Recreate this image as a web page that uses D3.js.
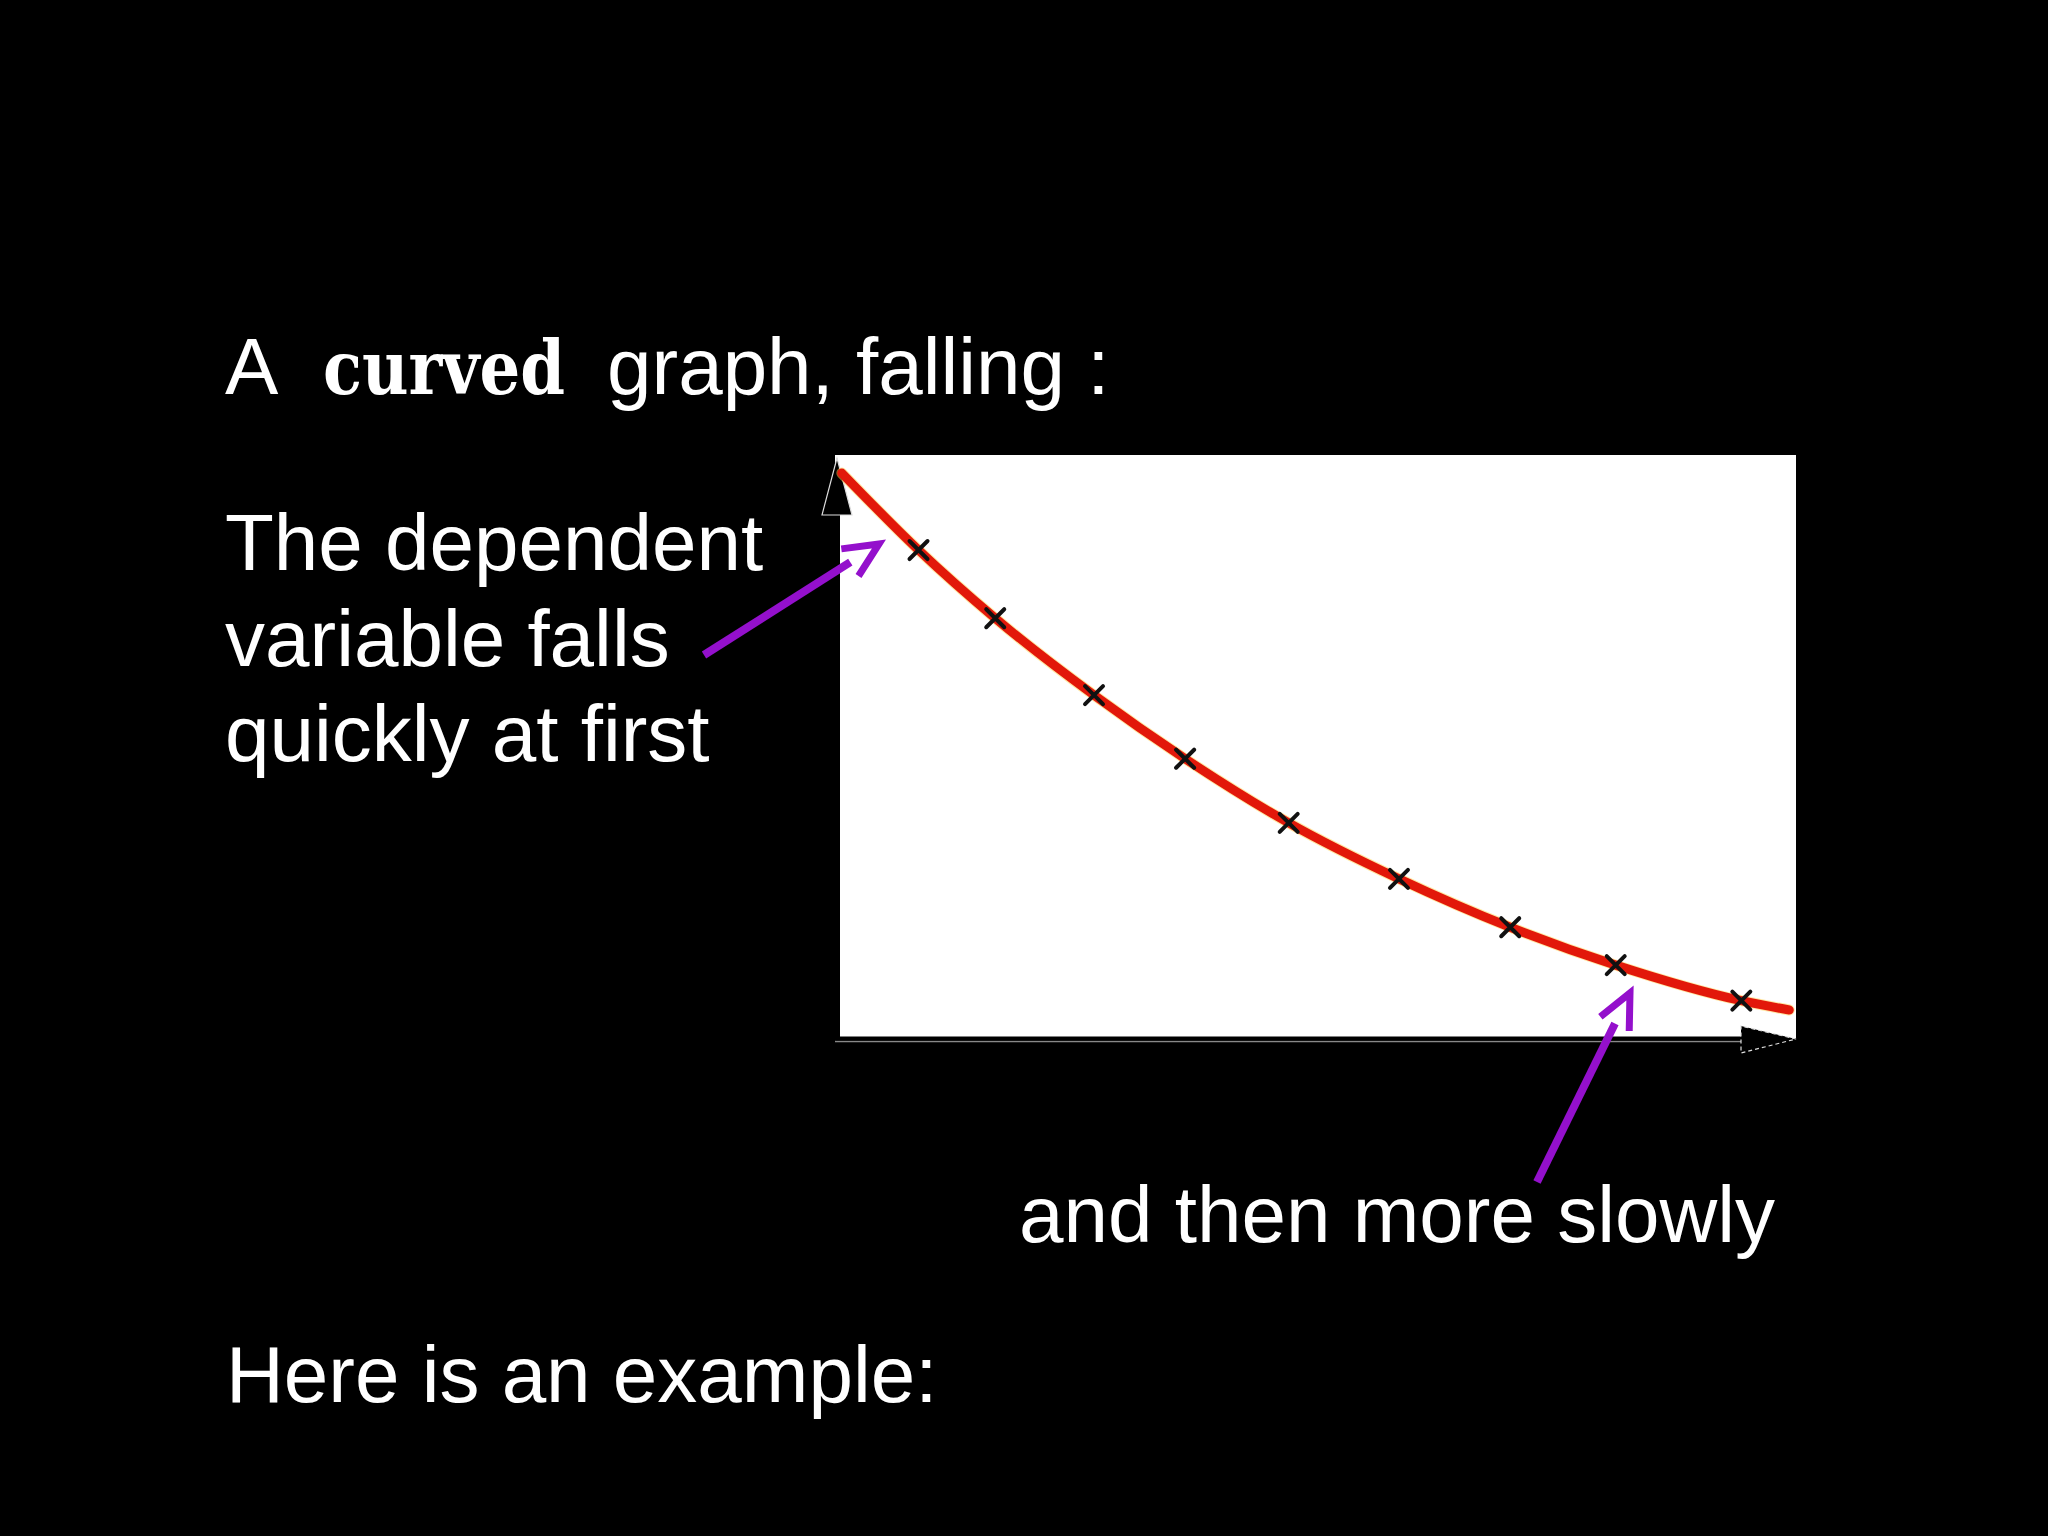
<!DOCTYPE html>
<html>
<head>
<meta charset="utf-8">
<script src="https://cdn.jsdelivr.net/npm/d3@7"></script>
<style>
  html, body { margin: 0; padding: 0; background: #000; }
  svg { display: block; }
</style>
</head>
<body>
<script>
// ---- data ----
const xDomain = [0, 10];
const yDomain = [0, 100];
const markerX = [0.85, 1.65, 2.68, 3.63, 4.71, 5.86, 7.02, 8.12, 9.43];
const markerY = [83.7, 72.0, 58.8, 47.9, 36.9, 27.3, 19.0, 12.5, 6.4];
const curveStart = [0.05, 96.9];
const curveEnd = [9.93, 4.8];

const titleParts = ["A", "curved", "graph, falling :"];
const leftLines = ["The dependent", "variable falls", "quickly at first"];
const rightNote = "and then more slowly";
const footer = "Here is an example:";

// ---- setup ----
const W = 2048, H = 1536;
const svg = d3.select("body").append("svg").attr("width", W).attr("height", H);
svg.append("rect").attr("width", W).attr("height", H).attr("fill", "#000");

const x = d3.scaleLinear().domain(xDomain).range([837, 1796]);
const y = d3.scaleLinear().domain(yDomain).range([1038, 455]);

// white plot panel
svg.append("rect")
  .attr("x", 835).attr("y", y(yDomain[1]))
  .attr("width", x(xDomain[1]) - 835).attr("height", y(0) - y(yDomain[1]))
  .attr("fill", "#fff");

// ---- axes (no ticks, just lines + arrowheads) ----
const xAxisScale = d3.scaleLinear().domain(xDomain).range([835, 1745]);
const yAxisScale = d3.scaleLinear().domain(yDomain).range([y(0), 512]);

svg.append("line")
  .attr("x1", 835).attr("x2", 1745)
  .attr("y1", y(0) + 3.5).attr("y2", y(0) + 3.5)
  .attr("stroke", "#888").attr("stroke-width", 1.5);

const gx = svg.append("g").attr("transform", `translate(0,${y(0)})`)
  .call(d3.axisBottom(xAxisScale).ticks(0).tickSize(0).tickSizeOuter(0));
gx.select(".domain").attr("stroke", "#000").attr("stroke-width", 4);

const gy = svg.append("g").attr("transform", `translate(${x(0)},0)`)
  .call(d3.axisLeft(yAxisScale).ticks(0).tickSize(0).tickSizeOuter(0));
gy.select(".domain").attr("stroke", "#000").attr("stroke-width", 5);

// arrowheads
const yTop = y(yDomain[1]) + 3;
svg.append("path")
  .attr("d", `M${x(0)},${yTop} L${x(0) - 15},${yTop + 57} L${x(0) + 15},${yTop + 57} Z`)
  .attr("fill", "#000").attr("stroke", "#ddd").attr("stroke-width", 1.2);
const xRight = x(xDomain[1]);
svg.append("path")
  .attr("d", `M${xRight},${y(0) + 1} L${xRight - 55},${y(0) - 12} L${xRight - 55},${y(0) + 15} Z`)
  .attr("fill", "#000").attr("stroke", "#ddd").attr("stroke-width", 1.2)
  .attr("stroke-dasharray", "4,3");

// ---- curve ----
const pts = [curveStart].concat(markerX.map((d, i) => [d, markerY[i]])).concat([curveEnd]);
const line = d3.line().x(d => x(d[0])).y(d => y(d[1])).curve(d3.curveMonotoneX);
svg.append("path")
  .datum(pts)
  .attr("d", line)
  .attr("fill", "none")
  .attr("stroke", "#ffd24a").attr("stroke-width", 11).attr("stroke-linecap", "round").attr("opacity", 0.5);
svg.append("path")
  .datum(pts)
  .attr("d", line)
  .attr("fill", "none")
  .attr("stroke", "#e2180a").attr("stroke-width", 9).attr("stroke-linecap", "round");

// markers (x crosses)
const ms = 9;
svg.append("g").selectAll("path")
  .data(markerX.map((d, i) => [d, markerY[i]]))
  .join("path")
  .attr("d", d => {
    const cx = x(d[0]), cy = y(d[1]);
    return `M${cx - ms},${cy - ms}L${cx + ms},${cy + ms}M${cx - ms},${cy + ms}L${cx + ms},${cy - ms}`;
  })
  .attr("stroke", "#111").attr("stroke-width", 4).attr("stroke-linecap", "round");

// ---- purple annotation arrows ----
const purple = "#9410cc";
function annotArrow(x0, y0, tx, ty, gap) {
  const dx = tx - x0, dy = ty - y0;
  const L = Math.hypot(dx, dy);
  const ux = dx / L, uy = dy / L;
  svg.append("line")
    .attr("x1", x0).attr("y1", y0)
    .attr("x2", tx - ux * gap).attr("y2", ty - uy * gap)
    .attr("stroke", purple).attr("stroke-width", 8);
  const ang = Math.atan2(-uy, -ux);
  const a = 25 * Math.PI / 180, len = 38;
  const p1 = [tx + len * Math.cos(ang + a), ty + len * Math.sin(ang + a)];
  const p2 = [tx + len * Math.cos(ang - a), ty + len * Math.sin(ang - a)];
  svg.append("path")
    .attr("d", `M${p1[0]},${p1[1]}L${tx},${ty}L${p2[0]},${p2[1]}`)
    .attr("fill", "none").attr("stroke", purple).attr("stroke-width", 7)
    .attr("stroke-linejoin", "miter");
}
annotArrow(704, 655, 879, 544, 34);
annotArrow(1537, 1182, 1630, 993, 34);

// ---- text ----
const sans = "'Liberation Sans', Arial, Helvetica, sans-serif";
const fs = 80;
svg.append("text").attr("x", 225).attr("y", 394)
  .attr("font-family", sans).attr("font-size", fs).attr("fill", "#fff").text(titleParts[0]);
svg.append("text").attr("x", 323).attr("y", 394)
  .attr("font-family", "'DejaVu Serif', 'Liberation Serif', serif").attr("font-weight", "bold")
  .attr("font-size", 74).attr("fill", "#fff")
  .attr("textLength", 242).attr("lengthAdjust", "spacingAndGlyphs")
  .text(titleParts[1]);
svg.append("text").attr("x", 607).attr("y", 394)
  .attr("font-family", sans).attr("font-size", fs).attr("fill", "#fff").text(titleParts[2]);

svg.append("g").selectAll("text")
  .data(leftLines)
  .join("text")
  .attr("x", 225)
  .attr("y", (d, i) => 570 + i * 95.5)
  .attr("font-family", sans).attr("font-size", fs).attr("fill", "#fff")
  .text(d => d);

svg.append("text").attr("x", 1019).attr("y", 1242)
  .attr("font-family", sans).attr("font-size", fs).attr("fill", "#fff").text(rightNote);

svg.append("text").attr("x", 226).attr("y", 1402)
  .attr("font-family", sans).attr("font-size", fs).attr("fill", "#fff").text(footer);
</script>
</body>
</html>
